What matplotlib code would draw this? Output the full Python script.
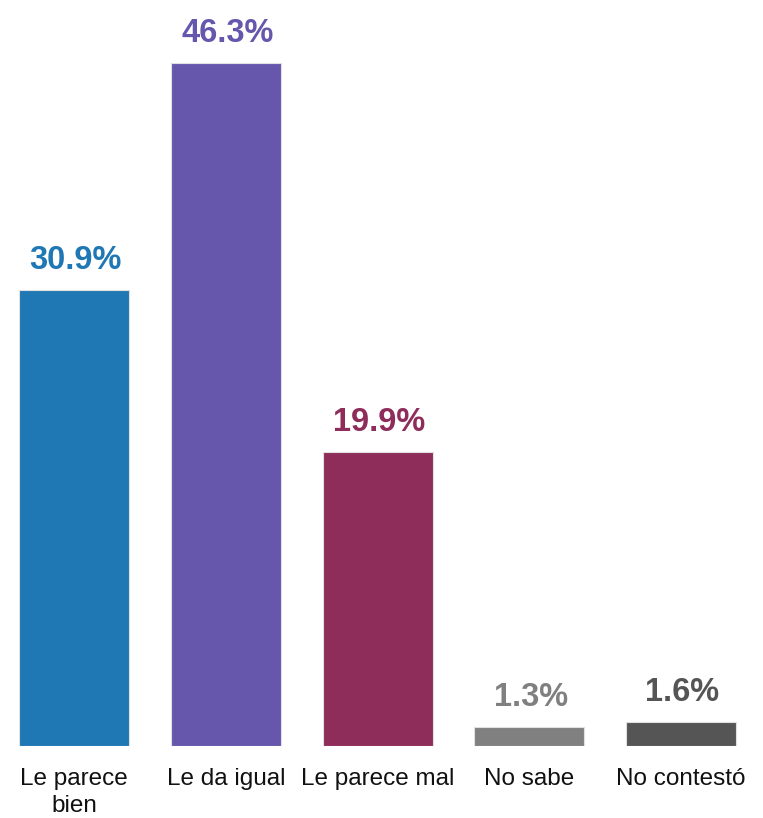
import matplotlib
matplotlib.use("Agg")
import matplotlib.pyplot as plt

categories = ["Le parece\nbien", "Le da igual", "Le parece mal", "No sabe", "No contestó"]
values = [30.9, 46.3, 19.9, 1.3, 1.6]
labels = ["30.9%", "46.3%", "19.9%", "1.3%", "1.6%"]
colors = ["#1f77b4", "#6657ac", "#8e2c5a", "#808080", "#555555"]

plt.rcParams['font.family'] = ['Liberation Sans', 'DejaVu Sans']

fig = plt.figure(figsize=(7.63, 8.18), dpi=100)
ax = fig.add_axes([0, 72/818, 1, 737.5/818])
x = list(range(len(categories)))
ax.bar(x, values, width=0.725, color=colors, edgecolor="#e0e0e0", linewidth=0.8)
ax.set_xlim(-0.4876, 4.54)
ax.set_ylim(0, 50)
for xi, v, lab, c in zip(x, values, labels, colors):
    ax.annotate(lab, (xi, v), xytext=(1.5, 21), textcoords="offset pixels",
                ha="center", va="baseline", fontsize=23.5, fontweight="bold", color=c)
ax.set_xticks(x)
ax.set_xticklabels(categories, fontsize=17.5, color="#111111", linespacing=1.3)
ax.tick_params(axis="x", length=0, pad=16)
ax.set_yticks([])
for s in ax.spines.values():
    s.set_visible(False)
fig.savefig("out.png", dpi=100)
